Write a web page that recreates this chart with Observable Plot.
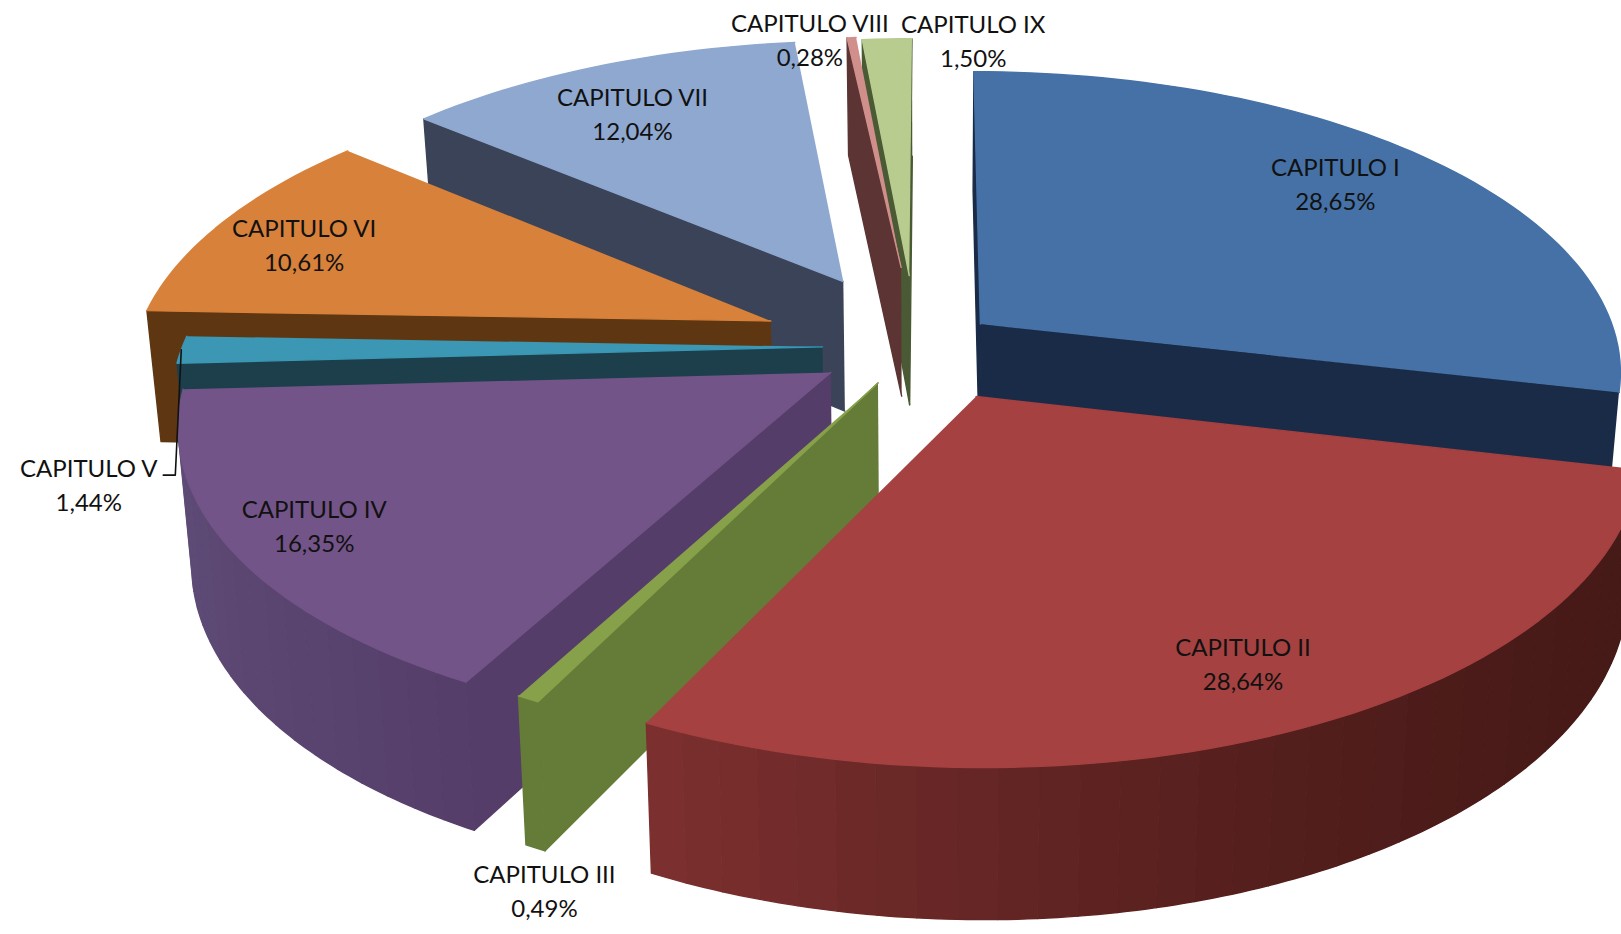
<!DOCTYPE html>
<html>
<head>
<meta charset="utf-8">
<style>html,body{margin:0;padding:0;background:#fff;overflow:hidden}svg{display:block}</style>
<script src="https://cdn.jsdelivr.net/npm/d3@7"></script>
<script src="https://cdn.jsdelivr.net/npm/@observablehq/plot@0.6"></script>
</head>
<body>
<div id="chart"></div>
<script>
// Data
const chapters = ["CAPITULO I","CAPITULO II","CAPITULO III","CAPITULO IV","CAPITULO V","CAPITULO VI","CAPITULO VII","CAPITULO VIII","CAPITULO IX"];
const shares = [28.65,28.64,0.49,16.35,1.44,10.61,12.04,0.28,1.50];
const shareLabels = ["28,65%","28,64%","0,49%","16,35%","1,44%","10,61%","12,04%","0,28%","1,50%"];

// Exploded position and radius of each slice on the pie's plane (unit radius)
const explodeX = [0.079,0.0695,-0.082,-0.156,-0.171,-0.256,-0.143,-0.049,-0.0355];
const explodeY = [0.130,-0.112,-0.068,-0.034,0.052,0.141,0.281,0.333,0.303];
const sliceRadius = [1.008,1.008,1,1,1.01,1.005,1,0.97,0.99];

// Colours
const topColors = ["#4571a6","#a54140","#87a14a","#735488","#3b97b4","#d8813a","#8fa8d0","#d18f8c","#b9cc8f"];
const cutColors = ["#1a2b47","#451a16","#657c38","#553d6a","#1d3f4c","#5e3712","#3b4358","#5b3433","#4a5a35"];
const wallColors = [
  ["#1a2b47","#1a2b47"],
  ["#451a15","#481a18","#5c2220","#7d3030"],
  ["#657c38","#657c38"],
  ["#553d6a","#5c4873","#5f4c78"],
  ["#1d3f4c","#1d3f4c"],
  ["#5e3712","#5e3712"],
  ["#3b4358","#3b4358"],
  ["#5b3433","#5b3433"],
  ["#4a5a35","#4a5a35"]
];

// Label placement in polar terms on each slice's own plane
const labelRadius = [0.808,0.84,1.38,0.873,1.156,0.833,0.769,0.966,0.982];
const labelAngle = [49.8,155.1,196.6,237.3,247.6,289.1,329.4,349.4,6.7];
const labelLift = 3;

// Draw order, back to front
const drawOrder = [8,7,6,5,4,3,0,2,1];

// View
const W = 1621, H = 934, zoom = W / 1568;
const view = {cx:900, cy:350, a:618, b:290, p:0.153, depth:129, depthPow:0.7, shrink:0.982};

function project(X, Y, level) {
  const w = 1 + view.p * Y;
  const a = level === 0 ? view.a : view.a * view.shrink;
  const x = view.cx + a * X / w;
  const y = view.cy - view.b * Y / w + (level === 0 ? 0 : view.depth / Math.pow(w, view.depthPow));
  return [x * zoom, y * zoom];
}
const rad = d => d * Math.PI / 180;

let acc = 0;
const slices = shares.map((s, i) => {
  const start = acc * 3.6;
  acc += s;
  const end = acc * 3.6;
  return {i, start, end, ox: explodeX[i], oy: explodeY[i], r: sliceRadius[i]};
});
const onPlane = (sl, r, deg) => [sl.ox + r * Math.sin(rad(deg)), sl.oy + r * Math.cos(rad(deg))];

const rows = [];
let faceId = 0;
function addFace(pts, color) {
  const id = faceId++;
  for (const [x, y] of pts) rows.push({x, y, face: id, color});
}
function area(pts) {
  let s = 0;
  for (let k = 0; k < pts.length; k++) {
    const [x0, y0] = pts[k], [x1, y1] = pts[(k + 1) % pts.length];
    s += x0 * y1 - x1 * y0;
  }
  return s;
}
for (const idx of drawOrder) {
  const sl = slices[idx];
  const span = sl.end - sl.start;
  const apex = [sl.ox, sl.oy];
  const fine = Math.max(2, Math.ceil(span / 1.5));
  const arc = d3.range(fine + 1).map(k => sl.start + span * k / fine);
  const outer = a => onPlane(sl, sl.r, a);

  const cutA = [project(...apex,0), project(...outer(sl.start),0), project(...outer(sl.start),1), project(...apex,1)];
  const cutB = [project(...outer(sl.end),0), project(...apex,0), project(...apex,1), project(...outer(sl.end),1)];
  if (area(cutA) < 0) addFace(cutA, cutColors[idx]);
  if (area(cutB) < 0) addFace(cutB, cutColors[idx]);

  const shade = d3.interpolateRgbBasis(wallColors[idx]);
  const bands = Math.max(1, Math.round(span / 3));
  for (let b = 0; b < bands; b++) {
    const a0 = sl.start + span * b / bands, a1 = sl.start + span * (b + 1) / bands;
    const steps = d3.range(5).map(k => a0 + (a1 - a0) * k / 4);
    const up = steps.map(a => project(...outer(a), 0));
    const down = steps.map(a => project(...outer(a), 1)).reverse();
    const quad = up.concat(down);
    if (area(quad) < 0) addFace(quad, shade((b + 0.5) / bands));
  }
  addFace([project(...apex,0), ...arc.map(a => project(...outer(a),0))], topColors[idx]);
}

const labels = slices.map(sl => {
  const [x, y] = project(...onPlane(sl, labelRadius[sl.i], labelAngle[sl.i]), 0);
  return {x, y: y - labelLift, text: chapters[sl.i] + "\n" + shareLabels[sl.i]};
});

// Leader of the CAPITULO V label
const vSlice = slices[4];
const vTop = project(...onPlane(vSlice, 1.01, (vSlice.start + vSlice.end) / 2), 0);
const vLabel = labels[4];
const leader = [
  {x: vTop[0], y: vTop[1]},
  {x: vTop[0] - 6, y: vLabel.y - 8},
  {x: vTop[0] - 18, y: vLabel.y - 8}
];

const chart = Plot.plot({
  width: W, height: H,
  marginTop: 0, marginRight: 0, marginBottom: 0, marginLeft: 0,
  x: {domain: [0, W], range: [0, W], axis: null},
  y: {domain: [0, H], range: [0, H], axis: null},
  style: {background: "#fff"},
  marks: [
    Plot.line(rows, {x: "x", y: "y", z: "face", fill: "color", stroke: "color", strokeWidth: 1.4, strokeLinejoin: "round", curve: "linear"}),
    Plot.line(leader, {x: "x", y: "y", stroke: "#111", strokeWidth: 1.6, curve: "linear"}),
    Plot.text(labels, {x: "x", y: "y", text: "text", fill: "#111", fontFamily: "Lato", fontSize: 24, lineHeight: 1.42, textAnchor: "middle", lineAnchor: "middle"})
  ]
});
document.getElementById("chart").appendChild(chart);
</script>
</body>
</html>
